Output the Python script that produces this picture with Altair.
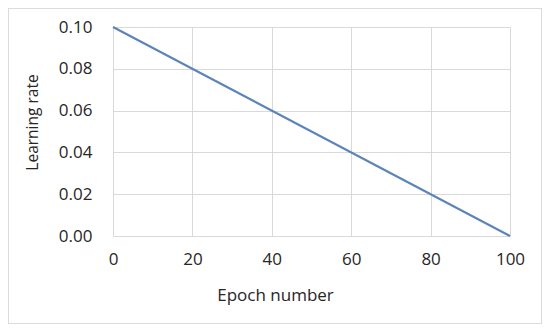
import altair as alt
import pandas as pd

epochs = [0, 100]
learning_rate = [0.10, 0.00]

df = pd.DataFrame({"epoch": epochs, "lr": learning_rate})

FONT = "Open Sans"

line = alt.Chart(df).mark_line(color="#5b84b9", strokeWidth=2.2).encode(
    x=alt.X("epoch:Q",
            scale=alt.Scale(domain=[0, 100], nice=False),
            axis=alt.Axis(title="Epoch number", values=[0, 20, 40, 60, 80, 100],
                          labelPadding=15, titlePadding=20, titleX=162,
                          titleFontSize=17)),
    y=alt.Y("lr:Q",
            scale=alt.Scale(domain=[0, 0.10], nice=False),
            axis=alt.Axis(title="Learning rate", values=[0, 0.02, 0.04, 0.06, 0.08, 0.10],
                          format=".2f", labelPadding=21, titlePadding=18, titleY=95,
                          titleFontSize=15.5)),
)

border = alt.Chart(df).mark_rect(fill=None, stroke="#d9d9d9", strokeWidth=1.5).encode(
    x=alt.value(-105), x2=alt.value(429), y=alt.value(-19), y2=alt.value(297)
)

chart = alt.layer(border, line).properties(
    width=397, height=209,
    autosize=alt.AutoSizeParams(type="none"),
    padding={"left": 105, "top": 19, "right": 32, "bottom": 88},
    background="white",
).configure_view(stroke=None).configure_axis(
    grid=True, gridColor="#d9d9d9", gridWidth=1,
    domain=False, ticks=False, labelFlush=False, labelOverlap=False,
    labelFont=FONT, labelFontSize=17, labelColor="#262626",
    titleFont=FONT, titleFontWeight="normal", titleColor="#262626",
)

chart.save("out.html", embed_options={"renderer": "svg", "actions": False})
